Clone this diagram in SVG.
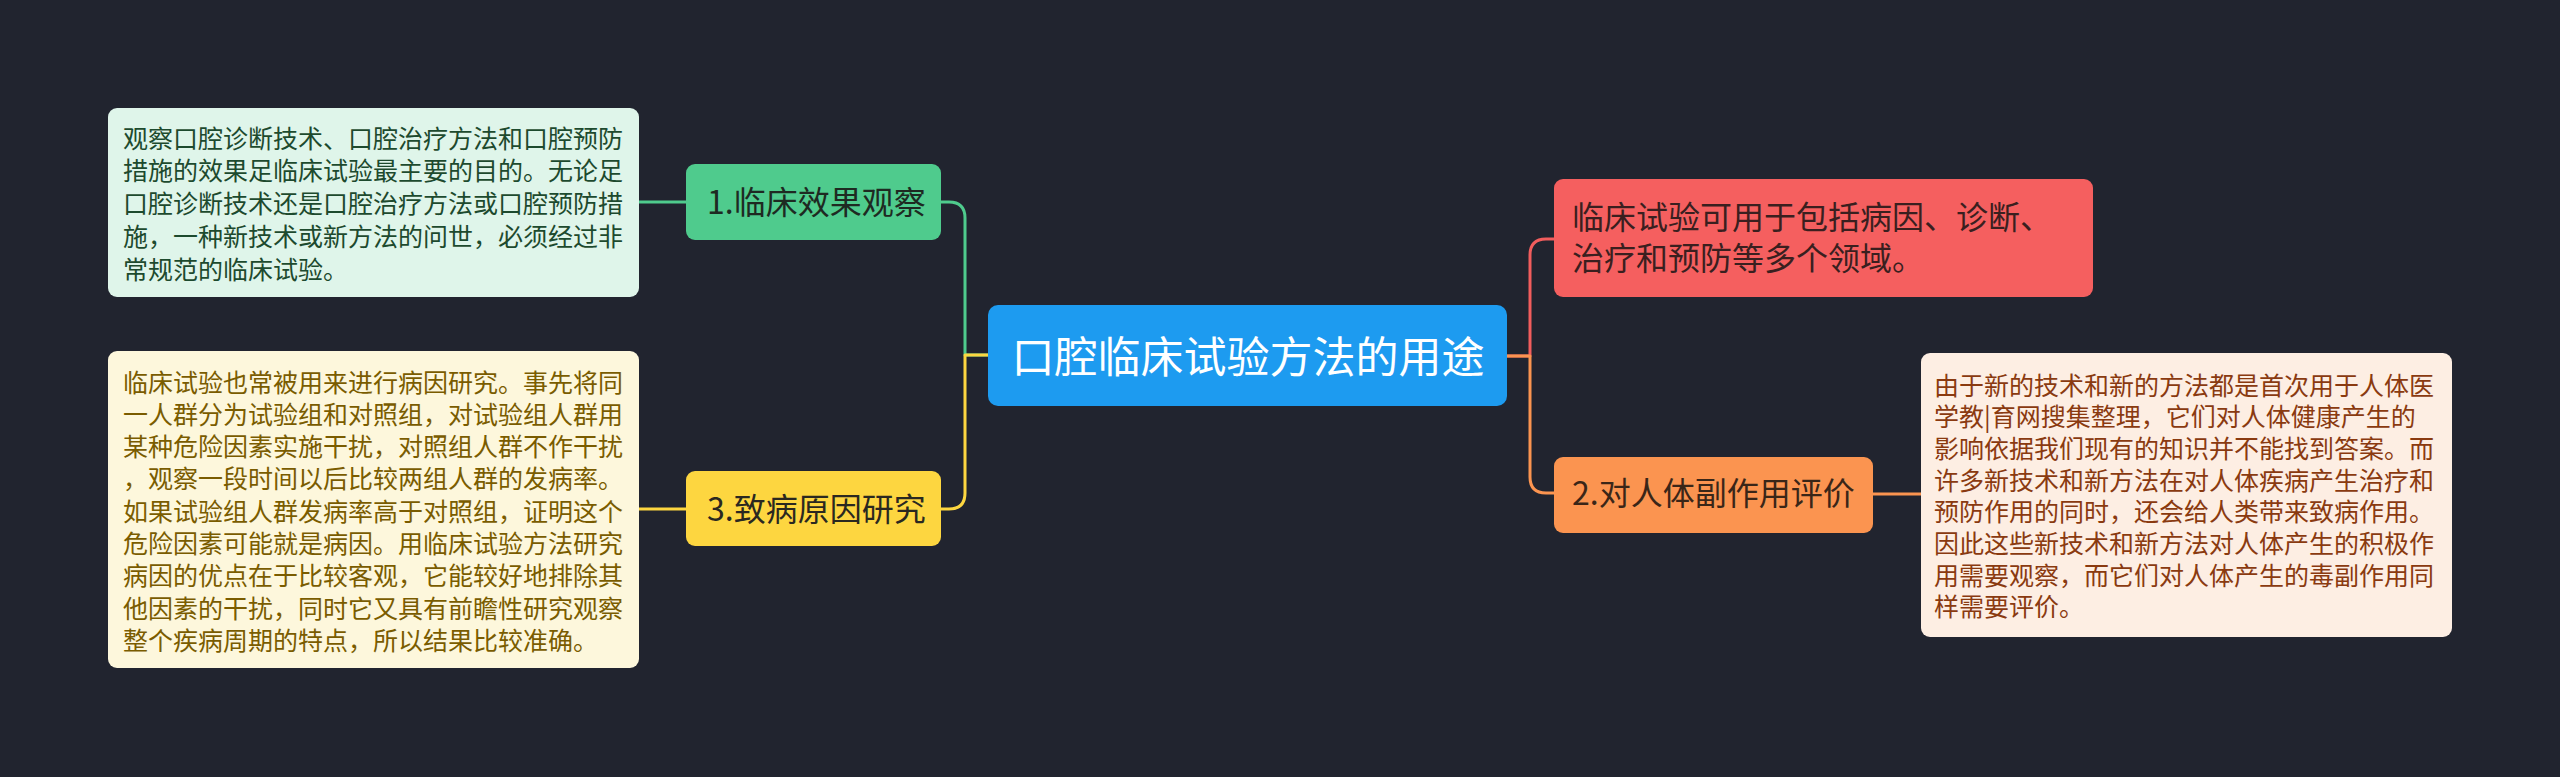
<svg xmlns="http://www.w3.org/2000/svg" width="2560" height="777" viewBox="0 0 2560 777">
<style>
text{font-family:"Noto Sans CJK SC","Noto Sans",sans-serif;}
.c{fill:none;stroke-width:3;stroke-linecap:round;stroke-linejoin:round;}
.note{font-size:25px;}
.node{font-size:32px;}
</style>
<rect x="0" y="0" width="2560" height="777" fill="#21242f"/>
<g id="connectors">
  <path class="c" stroke="#4fcb8d" d="M988,355 H965 V218 Q965,202 949,202 H941"/>
  <path class="c" stroke="#fdd640" d="M988,355 H965 V493 Q965,509 949,509 H941"/>
  <path class="c" stroke="#4fcb8d" d="M686,202 H639"/>
  <path class="c" stroke="#fdd640" d="M686,509 H639"/>
  <path class="c" stroke="#f25d5d" d="M1507,356 H1530 V255 Q1530,239 1546,239 H1554"/>
  <path class="c" stroke="#fb9450" d="M1507,356 H1530 V477 Q1530,493 1546,493 H1554"/>
  <path class="c" stroke="#fb9450" d="M1873,494 H1921"/>
</g>
<g id="center">
  <rect x="988" y="305" width="519" height="101" rx="10" fill="#1d9bf0"/>
  <text x="1248" y="373" font-size="43" fill="#ffffff" text-anchor="middle">口腔临床试验方法的用途</text>
</g>
<g id="node1">
  <rect x="686" y="164" width="255" height="76" rx="9" fill="#4fcb8d"/>
  <text class="node" x="707" y="214" fill="#1e2a22">1.临床效果观察</text>
</g>
<g id="note1">
  <rect x="108" y="108" width="531" height="189" rx="9" fill="#dff5ea"/>
  <text class="note" x="123" fill="#1d4a2e">
    <tspan x="123" y="147.5">观察口腔诊断技术、口腔治疗方法和口腔预防</tspan>
    <tspan x="123" y="180.4">措施的效果足临床试验最主要的目的。无论足</tspan>
    <tspan x="123" y="213.3">口腔诊断技术还是口腔治疗方法或口腔预防措</tspan>
    <tspan x="123" y="246.2">施，一种新技术或新方法的问世，必须经过非</tspan>
    <tspan x="123" y="279.1">常规范的临床试验。</tspan>
  </text>
</g>
<g id="node3">
  <rect x="686" y="471" width="255" height="75" rx="9" fill="#fdd640"/>
  <text class="node" x="707" y="521" fill="#2a2820">3.致病原因研究</text>
</g>
<g id="note3">
  <rect x="108" y="351" width="531" height="317" rx="9" fill="#fdf7dc"/>
  <text class="note" fill="#7a5c00">
    <tspan x="123" y="391.5">临床试验也常被用来进行病因研究。事先将同</tspan>
    <tspan x="123" y="423.8">一人群分为试验组和对照组，对试验组人群用</tspan>
    <tspan x="123" y="456.1">某种危险因素实施干扰，对照组人群不作干扰</tspan>
    <tspan x="123" y="488.4">，观察一段时间以后比较两组人群的发病率。</tspan>
    <tspan x="123" y="520.7">如果试验组人群发病率高于对照组，证明这个</tspan>
    <tspan x="123" y="553.0">危险因素可能就是病因。用临床试验方法研究</tspan>
    <tspan x="123" y="585.3">病因的优点在于比较客观，它能较好地排除其</tspan>
    <tspan x="123" y="617.6">他因素的干扰，同时它又具有前瞻性研究观察</tspan>
    <tspan x="123" y="649.9">整个疾病周期的特点，所以结果比较准确。</tspan>
  </text>
</g>
<g id="node-red">
  <rect x="1554" y="179" width="539" height="118" rx="9" fill="#f55f5f"/>
  <text class="node" fill="#3a1f1f">
    <tspan x="1572" y="229">临床试验可用于包括病因、诊断、</tspan>
    <tspan x="1572" y="270">治疗和预防等多个领域。</tspan>
  </text>
</g>
<g id="node2">
  <rect x="1554" y="457" width="319" height="76" rx="9" fill="#fb9450"/>
  <text class="node" x="1572" y="505" fill="#3a2618">2.对人体副作用评价</text>
</g>
<g id="note2">
  <rect x="1921" y="353" width="531" height="284" rx="9" fill="#fdeee3"/>
  <text class="note" fill="#8a3a10">
    <tspan x="1934" y="394.5">由于新的技术和新的方法都是首次用于人体医</tspan>
    <tspan x="1934" y="426.2">学教|育网搜集整理，它们对人体健康产生的</tspan>
    <tspan x="1934" y="457.9">影响依据我们现有的知识并不能找到答案。而</tspan>
    <tspan x="1934" y="489.6">许多新技术和新方法在对人体疾病产生治疗和</tspan>
    <tspan x="1934" y="521.3">预防作用的同时，还会给人类带来致病作用。</tspan>
    <tspan x="1934" y="553.0">因此这些新技术和新方法对人体产生的积极作</tspan>
    <tspan x="1934" y="584.7">用需要观察，而它们对人体产生的毒副作用同</tspan>
    <tspan x="1934" y="616.4">样需要评价。</tspan>
  </text>
</g>
</svg>
